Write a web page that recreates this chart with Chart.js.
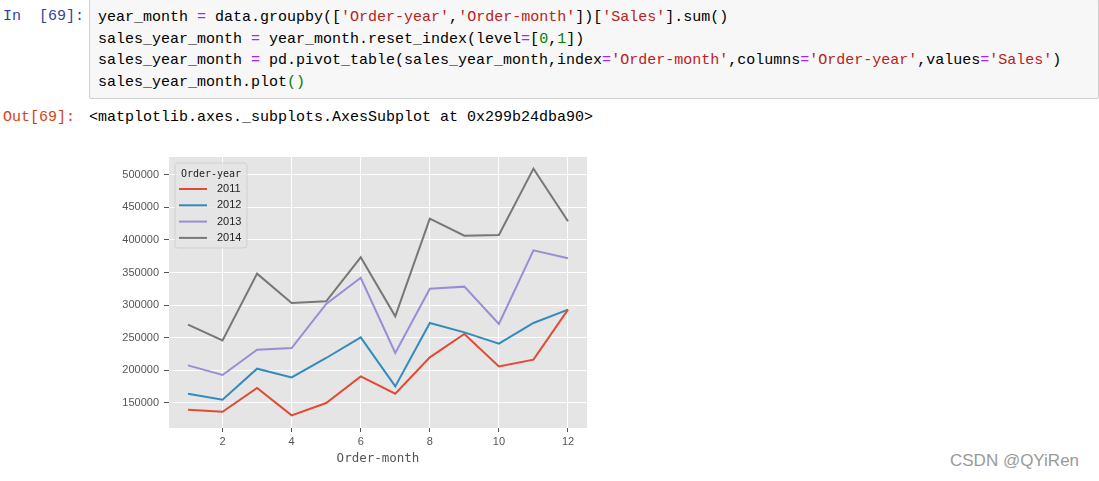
<!DOCTYPE html>
<html>
<head>
<meta charset="utf-8">
<script src="https://cdn.jsdelivr.net/npm/chart.js@4"></script>
<style>
  body { margin: 0; background: #fff; width: 1099px; height: 481px; overflow: hidden; position: relative; }
  .mono { font-family: "Liberation Mono", "DejaVu Sans Mono", monospace; font-size: 15px; white-space: pre; }
  .prompt-in { position: absolute; left: 3px; top: 8px; color: #303f9f; }
  .prompt-out { position: absolute; left: 3px; top: 109px; color: #d84315; }
  .cell { position: absolute; left: 89px; top: -1px; width: 1008px; height: 98px; background: #f7f7f7; border: 1px solid #cfcfcf; border-radius: 2px; }
  .code { position: absolute; left: 8px; top: 7px; line-height: 21.5px; color: #000; }
  .op { color: #aa22ff; }
  .str { color: #ba2121; }
  .num { color: #008000; }
  .br { color: #008000; }
  .out { position: absolute; left: 89px; top: 109px; color: #000; }
  #wrap { position: absolute; left: 100px; top: 150px; width: 520px; height: 330px; }
  .mark { position: absolute; left: 950px; top: 451px; font-family: "Liberation Sans", Arial, sans-serif; font-size: 17px; color: #9a9a9a; }
</style>
</head>
<body>
<div class="mono prompt-in">In  [69]:</div>
<div class="cell"><div class="mono code">year_month <span class="op">=</span> data.groupby([<span class="str">'Order-year'</span>,<span class="str">'Order-month'</span>])[<span class="str">'Sales'</span>].sum()
sales_year_month <span class="op">=</span> year_month.reset_index(level<span class="op">=</span>[<span class="num">0</span>,<span class="num">1</span>])
sales_year_month <span class="op">=</span> pd.pivot_table(sales_year_month,index<span class="op">=</span><span class="str">'Order-month'</span>,columns<span class="op">=</span><span class="str">'Order-year'</span>,values<span class="op">=</span><span class="str">'Sales'</span>)
sales_year_month.plot<span class="br">()</span></div></div>
<div class="mono prompt-out">Out[69]:</div>
<div class="mono out">&lt;matplotlib.axes._subplots.AxesSubplot at 0x299b24dba90&gt;</div>
<div id="wrap"><canvas id="salesChart"></canvas></div>
<div class="mark">CSDN @QYiRen</div>

<script>
const months = [1, 2, 3, 4, 5, 6, 7, 8, 9, 10, 11, 12];
const years = ['2011', '2012', '2013', '2014'];
const colors = ['#E24A33', '#348ABD', '#988ED5', '#777777'];

const sales2011 = [139700, 136600, 173000, 131000, 150000, 190800, 164300, 220000, 255800, 206100, 216400, 293100];
const sales2012 = [164300, 155000, 202600, 189300, 219000, 250600, 175500, 272700, 258300, 241000, 272700, 293100];
const sales2013 = [207700, 193000, 231700, 234300, 302000, 342000, 226700, 325300, 328400, 271200, 384000, 371800];
const sales2014 = [270100, 246000, 348300, 303400, 305800, 373300, 282800, 432700, 406600, 407600, 509300, 428600];

const xTicks = [2, 4, 6, 8, 10, 12];
const yTicks = [150000, 200000, 250000, 300000, 350000, 400000, 450000, 500000];

const allSales = [sales2011, sales2012, sales2013, sales2014];

// ggplot style grey panel
const panelBg = {
  id: 'panelBg',
  beforeDraw(chart) {
    const { ctx, chartArea } = chart;
    ctx.save();
    ctx.fillStyle = '#E5E5E5';
    ctx.fillRect(chartArea.left, chartArea.top, chartArea.right - chartArea.left, chartArea.bottom - chartArea.top);
    ctx.restore();
  }
};

// legend inside the axes, upper left like matplotlib
const innerLegend = {
  id: 'innerLegend',
  afterDraw(chart) {
    const { ctx, chartArea } = chart;
    const x = chartArea.left + 6, y = chartArea.top + 6;
    const w = 72, h = 85;
    ctx.save();
    ctx.beginPath();
    ctx.roundRect(x, y, w, h, 3);
    ctx.fillStyle = 'rgba(229,229,229,0.8)';
    ctx.fill();
    ctx.strokeStyle = 'rgba(204,204,204,0.8)';
    ctx.lineWidth = 1;
    ctx.stroke();

    ctx.fillStyle = '#222';
    ctx.font = '10px "DejaVu Sans Mono", monospace';
    ctx.textAlign = 'center';
    ctx.textBaseline = 'middle';
    ctx.fillText('Order-year', x + w / 2, y + 11);

    ctx.textAlign = 'left';
    ctx.font = '11px "Liberation Sans", Arial, sans-serif';
    chart.data.datasets.forEach((ds, i) => {
      const ly = y + 26 + i * 16.3;
      ctx.strokeStyle = ds.borderColor;
      ctx.lineWidth = 2;
      ctx.beginPath();
      ctx.moveTo(x + 4, ly);
      ctx.lineTo(x + 32, ly);
      ctx.stroke();
      ctx.fillStyle = '#222';
      ctx.fillText(ds.label, x + 42, ly);
    });
    ctx.restore();
  }
};

const ctx = document.getElementById('salesChart').getContext('2d');

new Chart(ctx, {
  type: 'line',
  data: {
    datasets: years.map((yr, i) => ({
      label: yr,
      data: months.map((m, j) => ({ x: m, y: allSales[i][j] })),
      borderColor: colors[i],
      backgroundColor: colors[i],
      borderWidth: 2,
      pointRadius: 0,
      tension: 0,
      fill: false
    }))
  },
  options: {
    responsive: true,
    maintainAspectRatio: false,
    animation: false,
    layout: { padding: { top: 7, right: 33, left: 0, bottom: 14 } },
    plugins: {
      legend: { display: false },
      tooltip: { enabled: false }
    },
    scales: {
      x: {
        type: 'linear',
        min: 0.45,
        max: 12.55,
        afterBuildTicks: (scale) => { scale.ticks = xTicks.map(v => ({ value: v })); },
        afterFit: (scale) => { scale.height = 38; scale.paddingLeft = 0; scale.paddingRight = 0; },
        grid: { color: '#ffffff', lineWidth: 1, tickColor: '#555', tickLength: 4 },
        border: { display: false },
        ticks: { color: '#555', padding: 3, maxRotation: 0, font: { family: '"Liberation Sans", Arial, sans-serif', size: 11 } },
        title: {
          display: true,
          text: 'Order-month',
          color: '#555',
          padding: 0,
          font: { family: '"DejaVu Sans Mono", monospace', size: 12.5 }
        }
      },
      y: {
        min: 111656,
        max: 527147,
        afterBuildTicks: (scale) => { scale.ticks = yTicks.map(v => ({ value: v })); },
        afterFit: (scale) => { scale.width = 69; scale.paddingTop = 0; scale.paddingBottom = 0; },
        grid: { color: '#ffffff', lineWidth: 1, tickColor: '#555', tickLength: 5 },
        border: { display: false },
        ticks: { color: '#555', padding: 5, font: { family: '"Liberation Sans", Arial, sans-serif', size: 11 }, callback: (v) => String(v) }
      }
    }
  },
  plugins: [panelBg, innerLegend]
});
</script>
</body>
</html>
